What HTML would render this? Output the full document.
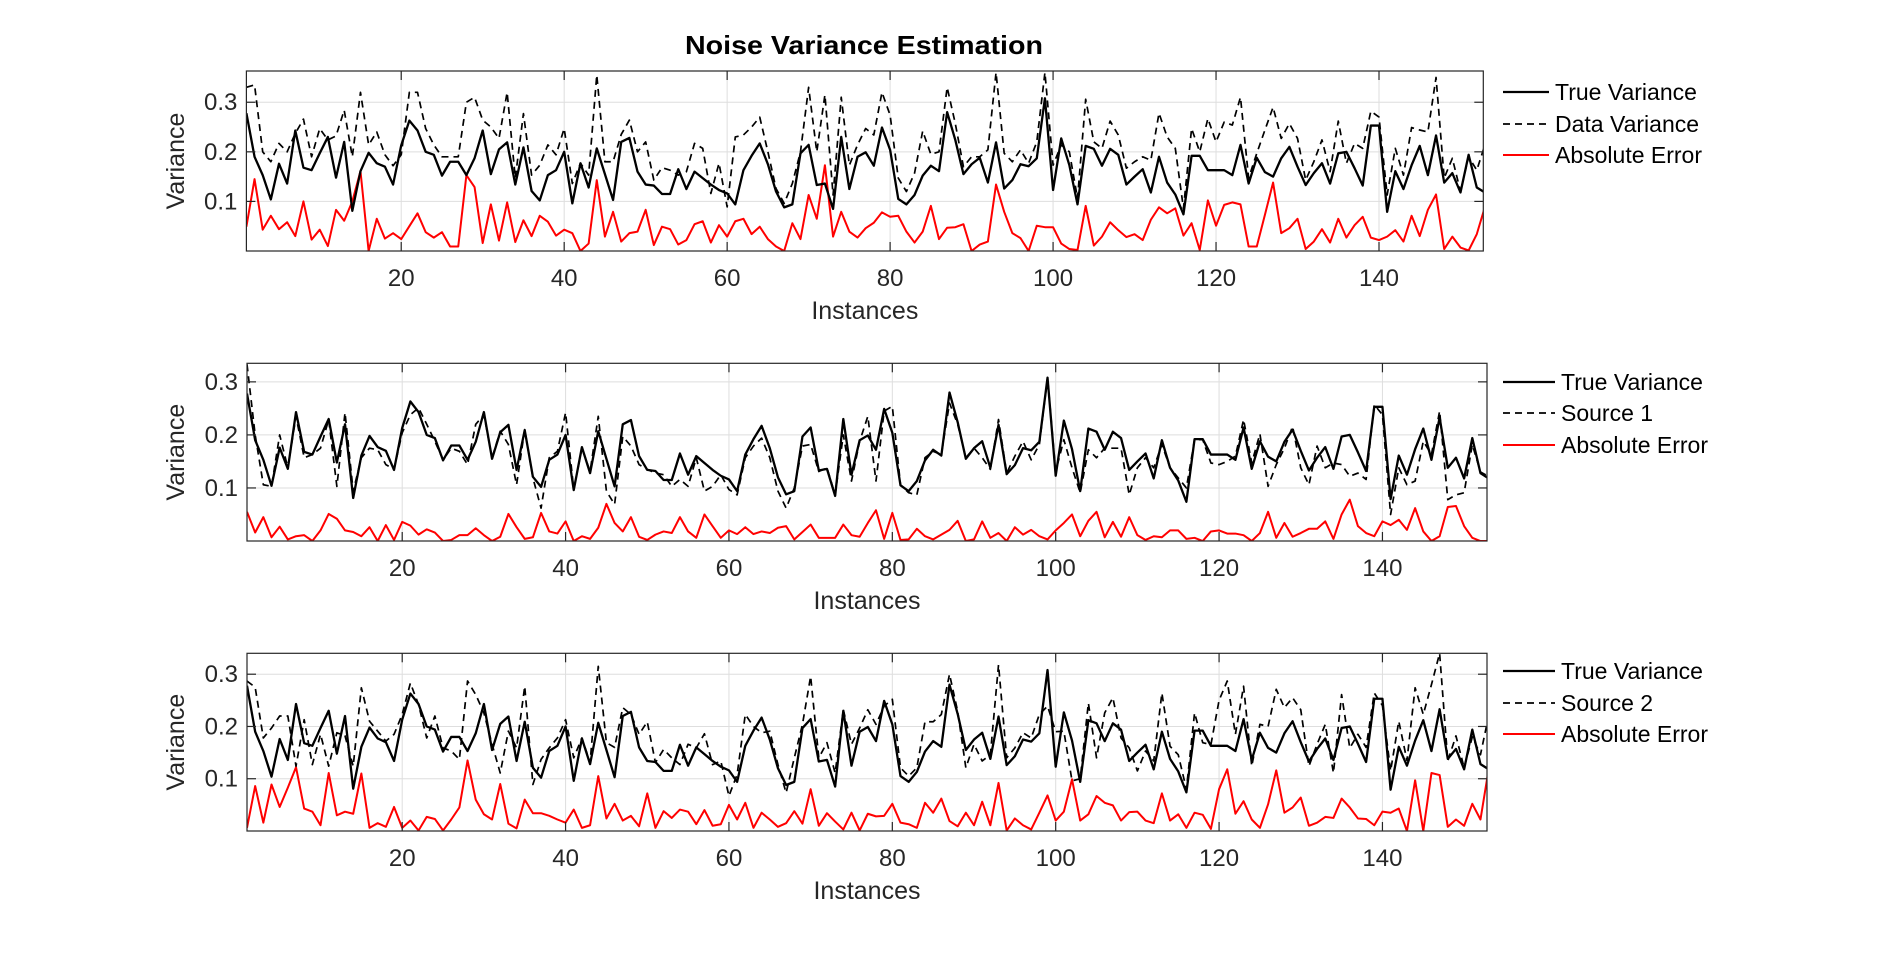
<!DOCTYPE html>
<html><head><meta charset="utf-8"><style>
html,body{margin:0;padding:0;background:#fff;}
svg{display:block;font-family:"Liberation Sans",sans-serif;}
</style></head><body>
<svg id="chart" width="1902" height="968" viewBox="0 0 1902 968" xmlns="http://www.w3.org/2000/svg">
<rect x="0" y="0" width="1902" height="968" fill="#fff"/>
<text x="864" y="54" text-anchor="middle" font-size="26" font-weight="bold" fill="#000" textLength="358" lengthAdjust="spacingAndGlyphs">Noise Variance Estimation</text>
</svg>
<script>
const categoriesCount = 153;
const xTicks = [20,40,60,80,100,120,140];
const yTicks = [0.1,0.2,0.3];
const yTickLabels = ["0.1","0.2","0.3"];
const trueVariance = [.278,.19,.153,.104,.176,.136,.243,.168,.163,.197,
.23,.148,.22,.081,.161,.198,.177,.17,.134,.213,
.263,.243,.2,.194,.152,.18,.18,.153,.187,.243,
.155,.205,.219,.134,.209,.121,.102,.153,.163,.2,
.096,.177,.128,.207,.155,.103,.22,.228,.16,.134,
.132,.115,.115,.165,.125,.16,.147,.134,.123,.116,
.094,.163,.192,.217,.175,.12,.088,.094,.197,.214,
.133,.136,.085,.23,.125,.19,.199,.172,.249,.204,
.105,.094,.113,.152,.172,.161,.28,.224,.155,.175,
.188,.138,.219,.126,.143,.175,.171,.187,.308,.123,
.227,.173,.094,.212,.206,.172,.206,.194,.134,.15,
.165,.118,.19,.138,.114,.074,.192,.192,.163,.163,
.163,.153,.214,.136,.188,.159,.15,.187,.21,.17,
.133,.157,.177,.136,.197,.2,.167,.132,.253,.253,
.079,.161,.125,.173,.212,.153,.233,.138,.157,.118,
.194,.128,.118];
const dataVariance = [.33,.335,.2,.18,.217,.2,.237,.266,.19,.247,
.224,.232,.284,.19,.32,.214,.24,.194,.172,.194,
.32,.32,.247,.214,.19,.19,.19,.3,.31,.264,
.25,.227,.32,.147,.277,.153,.173,.214,.194,.247,
.136,.177,.153,.355,.18,.18,.235,.264,.2,.22,
.143,.168,.163,.153,.16,.217,.207,.116,.177,.089,
.23,.234,.25,.27,.2,.126,.096,.136,.2,.33,
.2,.315,.113,.31,.173,.214,.247,.234,.32,.274,
.147,.12,.157,.242,.195,.2,.33,.257,.17,.19,
.19,.204,.36,.197,.18,.204,.177,.22,.36,.173,
.214,.2,.106,.306,.22,.207,.262,.234,.167,.18,
.19,.183,.278,.23,.207,.086,.247,.2,.267,.22,
.26,.254,.31,.147,.197,.244,.29,.227,.257,.227,
.143,.18,.224,.16,.262,.177,.217,.207,.282,.27,
.113,.207,.153,.249,.244,.24,.35,.147,.187,.12,
.19,.163,.214];
const error1 = [.049,.145,.043,.071,.044,.058,.03,.1,.023,.043,
.01,.083,.061,.1,.161,0,.065,.025,.036,.024,
.05,.076,.038,.027,.038,.009,.009,.153,.129,.016,
.094,.021,.098,.018,.062,.03,.071,.059,.031,.043,
.036,0,.015,.143,.029,.079,.019,.036,.039,.083,
.012,.049,.044,.013,.022,.054,.06,.017,.052,.029,
.06,.065,.034,.049,.024,.009,0,.056,.024,.113,
.065,.173,.029,.079,.039,.027,.046,.057,.078,.069,
.071,.039,.017,.039,.091,.024,.047,.048,.054,0,
.013,.019,.134,.079,.036,.026,0,.051,.048,.048,
.015,.004,.002,.091,.011,.029,.058,.042,.028,.034,
.022,.063,.088,.076,.086,.031,.056,.002,.102,.051,
.093,.098,.094,.009,.009,.073,.138,.036,.046,.065,
.004,.019,.044,.017,.065,.027,.052,.069,.027,.022,
.029,.042,.019,.071,.03,.083,.114,.004,.029,.007,
.001,.034,.089];
const source1 = [.333,.2,.106,.103,.2,.138,.235,.157,.163,.175,
.229,.103,.242,.094,.157,.175,.172,.144,.135,.204,
.238,.251,.22,.188,.153,.175,.169,.144,.22,.238,
.157,.207,.182,.106,.21,.119,.062,.157,.169,.242,
.097,.175,.131,.235,.094,.069,.197,.179,.144,.135,
.128,.125,.103,.116,.103,.157,.094,.103,.125,.097,
.087,.157,.179,.194,.157,.094,.062,.1,.179,.182,
.131,.138,.087,.2,.113,.188,.235,.113,.245,.254,
.106,.091,.087,.157,.169,.163,.26,.22,.157,.175,
.157,.135,.229,.128,.16,.188,.153,.182,.308,.131,
.191,.138,.091,.172,.157,.175,.175,.175,.087,.138,
.157,.138,.182,.138,.119,.1,.191,.191,.147,.144,
.15,.16,.229,.147,.202,.103,.144,.175,.216,.138,
.106,.179,.138,.147,.144,.122,.128,.116,.257,.238,
.05,.138,.106,.113,.188,.163,.245,.078,.087,.091,
.182,.13,.122];
const error2 = [.055,.016,.045,.007,.027,.003,.009,.011,0,.02,
.051,.042,.02,.017,.009,.026,0,.03,.002,.036,
.029,.012,.022,.016,0,.002,.011,.011,.024,.011,
0,.008,.051,.026,.004,.007,.053,.018,.014,.037,
0,.009,.004,.025,.07,.034,.018,.045,.008,.002,
.012,.018,.015,.045,.018,.006,.05,.028,.006,.02,
.013,.026,.013,.018,.015,.025,.028,.003,.017,.031,
.006,.006,.006,.031,.011,.008,.034,.058,.004,.053,
.002,.003,.023,.009,.003,.012,.021,.038,0,.003,
.037,.006,.015,0,.026,.012,.021,.009,.003,.02,
.034,.05,.009,.038,.055,.007,.036,.008,.045,.011,
.002,.009,.007,.02,.02,.004,.006,0,.018,.02,
.014,.014,.011,0,.015,.055,.006,.034,.008,.015,
.023,.023,.037,.004,.05,.078,.028,.015,.009,.037,
.03,.04,.021,.062,.018,0,.009,.064,.066,.028,
.006,0,0];
const source2 = [.287,.275,.178,.197,.22,.22,.124,.213,.127,.185,
.124,.188,.182,.124,.274,.21,.191,.172,.185,.223,
.283,.242,.178,.22,.159,.153,.137,.287,.261,.226,
.166,.111,.191,.159,.277,.089,.137,.159,.178,.213,
.14,.178,.131,.315,.169,.16,.236,.223,.185,.209,
.131,.156,.14,.127,.166,.159,.186,.127,.134,.067,
.108,.223,.2,.188,.191,.127,.073,.14,.204,.296,
.14,.169,.111,.232,.166,.197,.232,.204,.239,.252,
.121,.105,.121,.209,.209,.223,.3,.229,.121,.166,
.134,.146,.318,.14,.159,.188,.178,.223,.239,.19,
.191,.096,.1,.245,.14,.226,.255,.178,.159,.115,
.153,.134,.264,.162,.146,.08,.226,.169,.165,.25,
.287,.185,.277,.124,.204,.2,.271,.236,.255,.232,
.124,.166,.204,.111,.261,.159,.185,.16,.264,.24,
.115,.21,.135,.274,.223,.28,.34,.134,.182,.121,
.18,.146,.22];
const error3 = [.006,.086,.016,.089,.046,.083,.122,.043,.037,.011,
.111,.03,.037,.033,.11,.006,.015,.008,.046,.006,
.02,.001,.027,.023,.001,.022,.045,.135,.06,.032,
.022,.09,.014,.005,.06,.034,.034,.029,.022,.016,
.041,.006,.011,.105,.024,.052,.02,.029,.009,.072,
.006,.038,.025,.041,.037,.013,.04,.01,.013,.05,
.022,.054,.006,.035,.022,.008,.015,.038,.014,.08,
.01,.034,.018,.003,.035,.001,.033,.028,.029,.052,
.016,.013,.006,.054,.035,.062,.019,.009,.035,.011,
.056,.011,.092,.001,.024,.011,.003,.035,.068,.02,
.037,.099,.02,.032,.067,.054,.049,.02,.036,.037,
.02,.015,.072,.02,.032,.006,.035,.031,.004,.08,
.118,.033,.057,.022,.006,.051,.116,.035,.045,.064,
.01,.016,.027,.025,.062,.045,.024,.023,.011,.037,
.035,.043,0,.097,0,.111,.107,.008,.022,.01,
.052,.022,.118];
const legend1 = ["True Variance","Data Variance","Absolute  Error"];
const legend2 = ["True Variance","Source 1","Absolute Error"];
const legend3 = ["True Variance","Source 2","Absolute Error"];

const NS="http://www.w3.org/2000/svg";
const svg=document.getElementById('chart');
function mk(tag,attrs,parent){const e=document.createElementNS(NS,tag);for(const k in attrs)e.setAttribute(k,attrs[k]);(parent||svg).appendChild(e);return e;}

const panels=[
 {name:'top',L:246.4,R:1483.3,T:71,B:251,ymax:0.363,est:dataVariance,err:error1,leg:legend1,legY:[92,124,155],legLine:[1503,1549],legText:1555,xlabY:319},
 {name:'middle',L:247,R:1487,T:363.3,B:541,ymax:0.335,est:source1,err:error2,leg:legend2,legY:[382,413,445],legLine:[1503,1555],legText:1561,xlabY:609},
 {name:'bottom',L:247,R:1487,T:653.3,B:831,ymax:0.34,est:source2,err:error3,leg:legend3,legY:[671,703,734],legLine:[1503,1555],legText:1561,xlabY:899}
];
const xmin=1,xmax=152.8;
panels.forEach((p,pi)=>{
 const g=mk('g',{});
 
 
 const xs=v=>p.L+(v-xmin)/(xmax-xmin)*(p.R-p.L);
 const ys=v=>p.B-(v/p.ymax)*(p.B-p.T);
 xTicks.forEach(t=>{const l=mk('line',{x1:xs(t),x2:xs(t),y1:p.T,y2:p.B,stroke:'#dedede','stroke-width':1},g);
  });
 yTicks.forEach(t=>{const l=mk('line',{x1:p.L,x2:p.R,y1:ys(t),y2:ys(t),stroke:'#dedede','stroke-width':1},g);
  });
 const clipId='clip'+pi;
 const cp=mk('clipPath',{id:clipId},g);mk('rect',{x:p.L,y:p.T,width:p.R-p.L,height:p.B-p.T},cp);
 function series(arr,stroke,w,dash,nm){
  let d='';arr.forEach((v,i)=>{d+=(i?'L':'M')+xs(i+1).toFixed(2)+' '+ys(v).toFixed(2);});
  const a={d:d,fill:'none',stroke:stroke,'stroke-width':w,'stroke-linejoin':'round','clip-path':'url(#'+clipId+')'};
  if(dash)a['stroke-dasharray']=dash;
  const e=mk('path',a,g);
  
  
 }
 series(p.err,'#ff0000',2,null,'absolute-error-line');
 series(p.est,'#000',1.7,'7,5','estimated-variance-line');
 series(trueVariance,'#000',2.3,null,'true-variance-line');
 const bx=mk('rect',{x:p.L,y:p.T,width:p.R-p.L,height:p.B-p.T,fill:'none',stroke:'#262626','stroke-width':1.2},g);
 
 xTicks.forEach(t=>{mk('line',{x1:xs(t),x2:xs(t),y1:p.B,y2:p.B-9,stroke:'#262626','stroke-width':1.2},g);
  mk('line',{x1:xs(t),x2:xs(t),y1:p.T,y2:p.T+9,stroke:'#262626','stroke-width':1.2},g);
  const tx=mk('text',{x:xs(t),y:p.B+35,'text-anchor':'middle','font-size':24,fill:'#262626'},g);tx.textContent=String(t);
  });
 yTicks.forEach((t,i)=>{mk('line',{x1:p.L,x2:p.L+9,y1:ys(t),y2:ys(t),stroke:'#262626','stroke-width':1.2},g);
  mk('line',{x1:p.R,x2:p.R-9,y1:ys(t),y2:ys(t),stroke:'#262626','stroke-width':1.2},g);
  const tx=mk('text',{x:p.L-9,y:ys(t)+8,'text-anchor':'end','font-size':24,fill:'#262626'},g);tx.textContent=yTickLabels[i];
  });
 const xl=mk('text',{x:(p.L+p.R)/2,y:p.xlabY,'text-anchor':'middle','font-size':25,fill:'#262626'},g);xl.textContent='Instances';
 
 const cy=(p.T+p.B)/2;
 const yl=mk('text',{x:184,y:cy,'text-anchor':'middle','font-size':25,fill:'#262626',transform:'rotate(-90 184 '+cy+')'},g);yl.textContent='Variance';
 
 const lg=mk('g',{},g);
 
 const styles=[['#000',2.3,null],['#000',1.7,'7,5'],['#ff0000',2,null]];
 p.leg.forEach((s,i)=>{
  const en=mk('g',{},lg);
  
  
  const a={x1:p.legLine[0],x2:p.legLine[1],y1:p.legY[i],y2:p.legY[i],stroke:styles[i][0],'stroke-width':styles[i][1]};
  if(styles[i][2])a['stroke-dasharray']=styles[i][2];
  mk('line',a,en);
  const t=mk('text',{x:p.legText,y:p.legY[i]+8,'font-size':23,fill:'#000'},en);t.textContent=s;
 });
});
</script>
</body></html>
